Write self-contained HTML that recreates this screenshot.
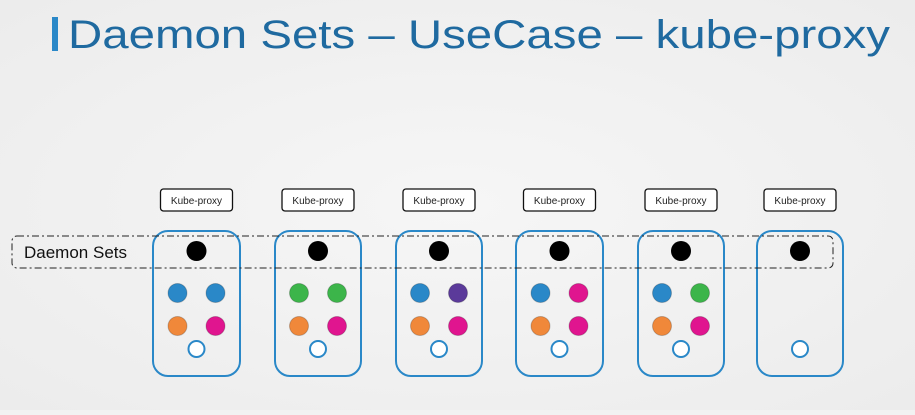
<!DOCTYPE html>
<html><head><meta charset="utf-8"><style>
body{margin:0;width:915px;height:410px;background:#f2f2f2;overflow:hidden;font-family:"Liberation Sans",sans-serif}
</style></head><body>
<svg width="915" height="410" xmlns="http://www.w3.org/2000/svg">
<defs><radialGradient id="bg" cx="50%" cy="50%" r="70%"><stop offset="0" stop-color="#f6f6f6"/><stop offset="1" stop-color="#ececec"/></radialGradient></defs>
<rect width="915" height="410" fill="url(#bg)"/>
<rect x="52" y="17" width="6" height="34" fill="#2a88c8"/>
<text x="68" y="48" font-size="40" fill="#1f6aa0" textLength="822" lengthAdjust="spacingAndGlyphs">Daemon Sets – UseCase – kube-proxy</text>
<g id="nodes"></g>
<rect x="12" y="236" width="821" height="32" rx="5" fill="none" stroke="#222" stroke-width="1" stroke-dasharray="7,3,2,3"/>
<text x="24" y="258" font-size="17" fill="#111">Daemon Sets</text>
</svg>
<script>
const nodeLeft=[153,275,396,516,638,757];
const nodeWidth=[87,86,86,87,86,86];
const podColors=[["#2a88c8","#2a88c8","#f0883a","#e0158f"],["#3cb54a","#3cb54a","#f0883a","#e0158f"],["#2a88c8","#5b3a9a","#f0883a","#e0158f"],["#2a88c8","#e0158f","#f0883a","#e0158f"],["#2a88c8","#3cb54a","#f0883a","#e0158f"],[]];
const NS="http://www.w3.org/2000/svg";
const g=document.getElementById('nodes');
function mk(t,a){const e=document.createElementNS(NS,t);for(const k in a)e.setAttribute(k,a[k]);g.appendChild(e);return e;}
nodeLeft.forEach((x,i)=>{
 const w=nodeWidth[i],cx=x+w/2;
 let r=mk('rect',{x:x,y:231,width:w,height:145,rx:15,fill:'none',stroke:'#2a88c8','stroke-width':2});
 
 
 let b=mk('rect',{x:cx-36,y:189,width:72,height:22,rx:3,fill:'#fff',stroke:'#111','stroke-width':1.3});
 
 
 let t=mk('text',{x:cx,y:204,'font-size':10,'text-anchor':'middle',fill:'#222'});t.textContent='Kube-proxy';
 
 
 let d=mk('circle',{cx:cx,cy:251,r:10,fill:'#000'});
 
 
 podColors[i].forEach((c,j)=>{
  let p=mk('circle',{cx:cx+(j%2?19:-19),cy:j<2?293:326,r:9.5,fill:c,stroke:'rgba(0,0,0,0.2)','stroke-width':1});
  
  
 });
 let e=mk('circle',{cx:cx,cy:349,r:8,fill:'#fff',stroke:'#2a88c8','stroke-width':2});
 
 
});
</script>
</body></html>
